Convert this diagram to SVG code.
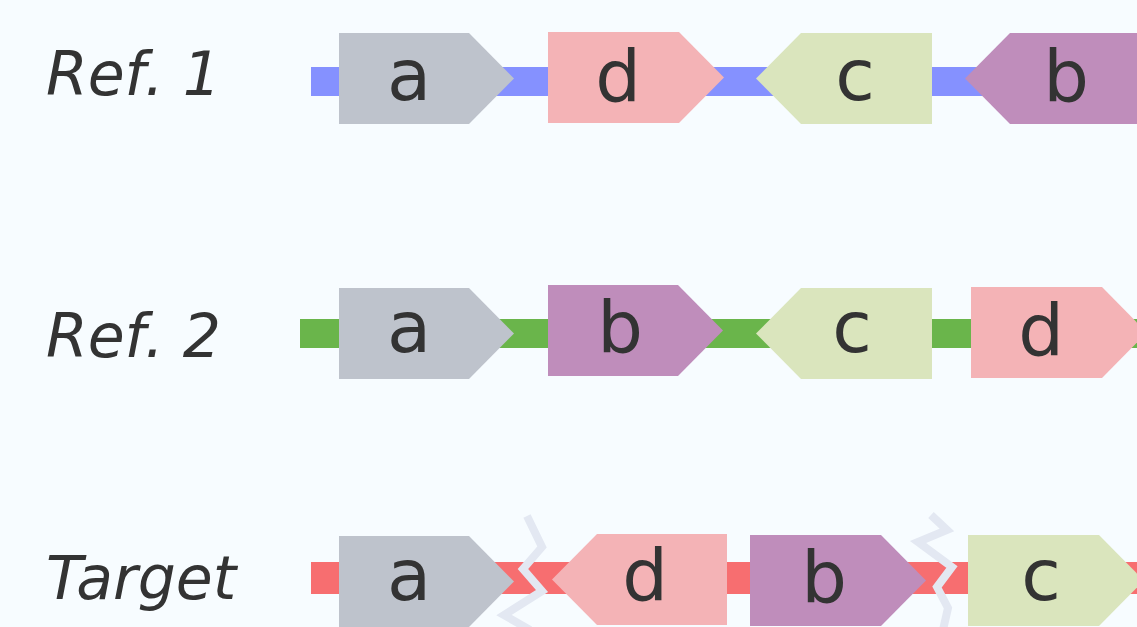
<svg xmlns="http://www.w3.org/2000/svg" width="1137" height="627" viewBox="0 0 1137 627">
<style>
.lbl{font-family:"DejaVu Sans",sans-serif;font-style:italic;font-size:60px;fill:#333333}
.gl{font-family:"DejaVu Sans",sans-serif;font-size:72px;fill:#333333;text-anchor:middle}
.ga{fill:#bec3cc}.gd{fill:#f4b3b6}.gc{fill:#dae5bd}.gb{fill:#bf8dbb}
.brk{fill:none;stroke:#e3e8f2;stroke-width:8}
</style>
<rect width="1137" height="627" fill="#f7fcff"/>
<g id="labels">
<text class="lbl" x="46" y="95">Ref. 1</text>
<text class="lbl" x="46" y="357">Ref. 2</text>
<text class="lbl" x="46" y="599">Target</text>
</g>
<g id="connectors">
<rect x="311" y="67" width="826" height="29" fill="#8591ff"/>
<rect x="300" y="319" width="837" height="29" fill="#6ab54b"/>
<rect x="311" y="562" width="826" height="32" fill="#f76e70"/>
</g>
<g id="r1a"><polygon class="ga" points="339,33 469,33 514,78.5 469,124 339,124"/><text class="gl" x="409" y="100">a</text></g>
<g id="r1d"><polygon class="gd" points="548,32 679,32 724,77.5 679,123 548,123"/><text class="gl" x="618" y="101">d</text></g>
<g id="r1c"><polygon class="gc" points="932,33 801,33 756,78.5 801,124 932,124"/><text class="gl" x="855" y="100">c</text></g>
<g id="r1b"><polygon class="gb" points="1145,33 1010,33 965,78.5 1010,124 1145,124"/><text class="gl" x="1066" y="101">b</text></g>
<g id="r2a"><polygon class="ga" points="339,288 469,288 514,333.5 469,379 339,379"/><text class="gl" x="409" y="352">a</text></g>
<g id="r2b"><polygon class="gb" points="548,285 678,285 723,330.5 678,376 548,376"/><text class="gl" x="620" y="352">b</text></g>
<g id="r2c"><polygon class="gc" points="932,288 801,288 756,333.5 801,379 932,379"/><text class="gl" x="852" y="352">c</text></g>
<g id="r2d"><polygon class="gd" points="971,287 1102,287 1147,332.5 1102,378 971,378"/><text class="gl" x="1041" y="355">d</text></g>
<g id="r3a"><polygon class="ga" points="339,536 469,536 514,581.5 469,627 339,627"/><text class="gl" x="409" y="600">a</text></g>
<g id="r3d"><polygon class="gd" points="727,534 597,534 552,579.5 597,625 727,625"/><text class="gl" x="645" y="600">d</text></g>
<g id="r3b"><polygon class="gb" points="750,535 881,535 926,580.5 881,626 750,626"/><text class="gl" x="824" y="602">b</text></g>
<g id="r3c"><polygon class="gc" points="968,535 1099,535 1144,580.5 1099,626 968,626"/><text class="gl" x="1041" y="600">c</text></g>
<g id="breaks">
<polyline class="brk" points="527,516 542,547 523,569 542,591 504,615 530,630"/>
<polyline class="brk" points="931,515 947,530 918,542 952,567 937,587 948,608 943,630"/>
</g>
</svg>
